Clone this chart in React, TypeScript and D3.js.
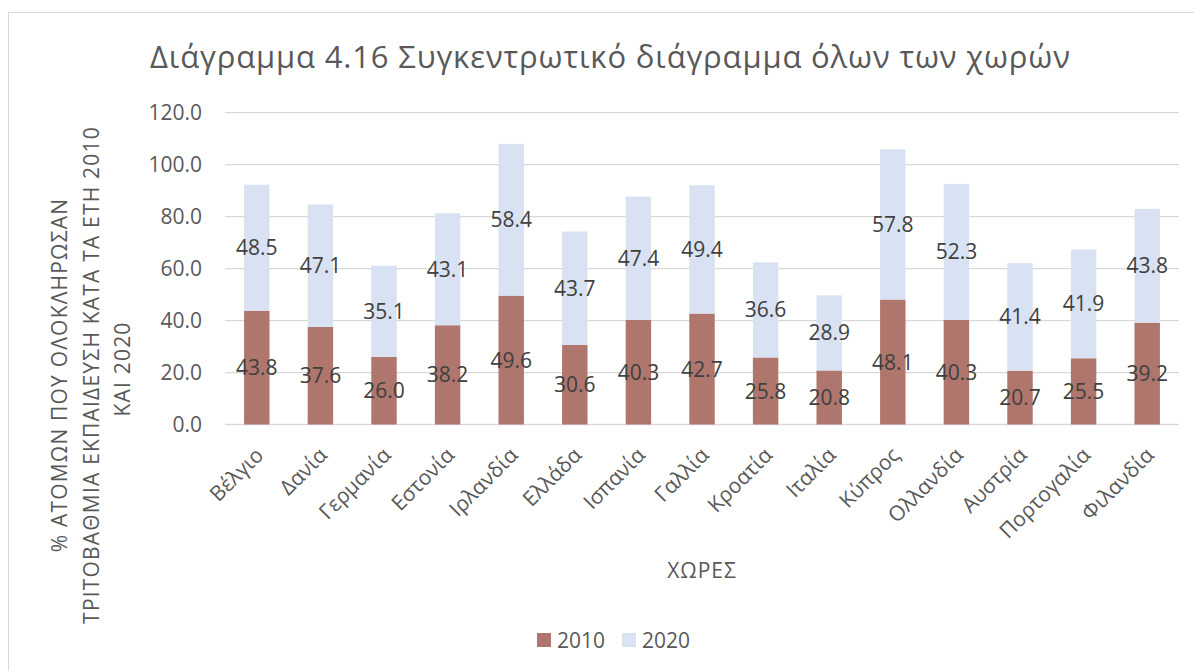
import React from 'react';
import * as d3 from 'd3';

const countries = ['Βέλγιο', 'Δανία', 'Γερμανία', 'Εστονία', 'Ιρλανδία', 'Ελλάδα', 'Ισπανία', 'Γαλλία', 'Κροατία', 'Ιταλία', 'Κύπρος', 'Ολλανδία', 'Αυστρία', 'Πορτογαλία', 'Φιλανδία'];
const values2010 = [43.8, 37.6, 26.0, 38.2, 49.6, 30.6, 40.3, 42.7, 25.8, 20.8, 48.1, 40.3, 20.7, 25.5, 39.2];
const values2020 = [48.5, 47.1, 35.1, 43.1, 58.4, 43.7, 47.4, 49.4, 36.6, 28.9, 57.8, 52.3, 41.4, 41.9, 43.8];
const yTicks = [0, 20, 40, 60, 80, 100, 120];

const FONT = '"Open Sans", "Noto Sans", sans-serif';
const C2010 = '#AF766D';
const C2020 = '#D9E2F3';

const W = 1194;
const H = 671;
const plot = { left: 225, right: 1179, top: 112.7, bottom: 424.5 };

const App = () => {
    const x = d3.scaleBand()
        .domain(countries)
        .range([plot.left, plot.right])
        .paddingInner(0.6)
        .paddingOuter(0.3);
    const y = d3.scaleLinear().domain([0, 120]).range([plot.bottom, plot.top]);

    const rows = countries.map((c, i) => ({ c, a: values2010[i], b: values2020[i] }));
    const fmt = d3.format('.1f');

    return (
        <svg width={W} height={H} style={{ position: 'absolute', left: 0, top: 0, background: '#fff' }}>
            <rect x={8.5} y={12.5} width={1200} height={700} fill="#fff" stroke="#d9d9d9" />
            <text x={150} y={68} fontFamily={FONT} fontSize={31} letterSpacing={0.85} fill="#595959">
                Διάγραμμα 4.16 Συγκεντρωτικό διάγραμμα όλων των χωρών
            </text>

            {yTicks.map(t => (
                <g key={t}>
                    <line x1={plot.left} x2={plot.right} y1={y(t)} y2={y(t)} stroke="#d9d9d9" strokeWidth={t === 0 ? 1.5 : 1.2} />
                    <text x={202} y={y(t)} dy="0.36em" textAnchor="end" fontFamily={FONT} fontSize={21} fill="#595959">
                        {fmt(t)}
                    </text>
                </g>
            ))}

            {rows.map(d => {
                const bx = x(d.c) as number;
                const bw = x.bandwidth();
                const cx = bx + bw / 2;
                return (
                    <g key={d.c}>
                        <rect x={bx} width={bw} y={y(d.a)} height={y(0) - y(d.a)} fill={C2010} />
                        <rect x={bx} width={bw} y={y(d.a + d.b)} height={y(d.a) - y(d.a + d.b)} fill={C2020} />
                        <text x={cx} y={y(d.a / 2)} dy="0.36em" textAnchor="middle" fontFamily={FONT} fontSize={21} fill="#404040">
                            {fmt(d.a)}
                        </text>
                        <text x={cx} y={y(d.a + d.b / 2)} dy="0.36em" textAnchor="middle" fontFamily={FONT} fontSize={21} fill="#404040">
                            {fmt(d.b)}
                        </text>
                        <text transform={`translate(${cx + 8},${plot.bottom + 32}) rotate(-45)`} textAnchor="end" fontFamily={FONT} fontSize={21} fill="#595959">
                            {d.c}
                        </text>
                    </g>
                );
            })}

            <text x={(plot.left + plot.right) / 2} y={578} textAnchor="middle" fontFamily={FONT} fontSize={21} letterSpacing={1} fill="#595959">ΧΩΡΕΣ</text>

            <g fontFamily={FONT} fontSize={21} letterSpacing={1.2} fill="#595959" textAnchor="middle">
                <text transform="translate(67,375) rotate(-90)">% ΑΤΟΜΩΝ ΠΟΥ ΟΛΟΚΛΗΡΩΣΑΝ</text>
                <text transform="translate(99,375) rotate(-90)">ΤΡΙΤΟΒΑΘΜΙΑ ΕΚΠΑΙΔΕΥΣΗ ΚΑΤΑ ΤΑ ΕΤΗ 2010</text>
                <text transform="translate(130,369) rotate(-90)">ΚΑΙ 2020</text>
            </g>

            <g fontFamily={FONT} fontSize={21} fill="#595959">
                <rect x={537} y={633} width={14} height={14} fill={C2010} />
                <text x={557} y={648}>2010</text>
                <rect x={622} y={633} width={14} height={14} fill={C2020} />
                <text x={642} y={648}>2020</text>
            </g>
        </svg>
    );
};

export default App;
